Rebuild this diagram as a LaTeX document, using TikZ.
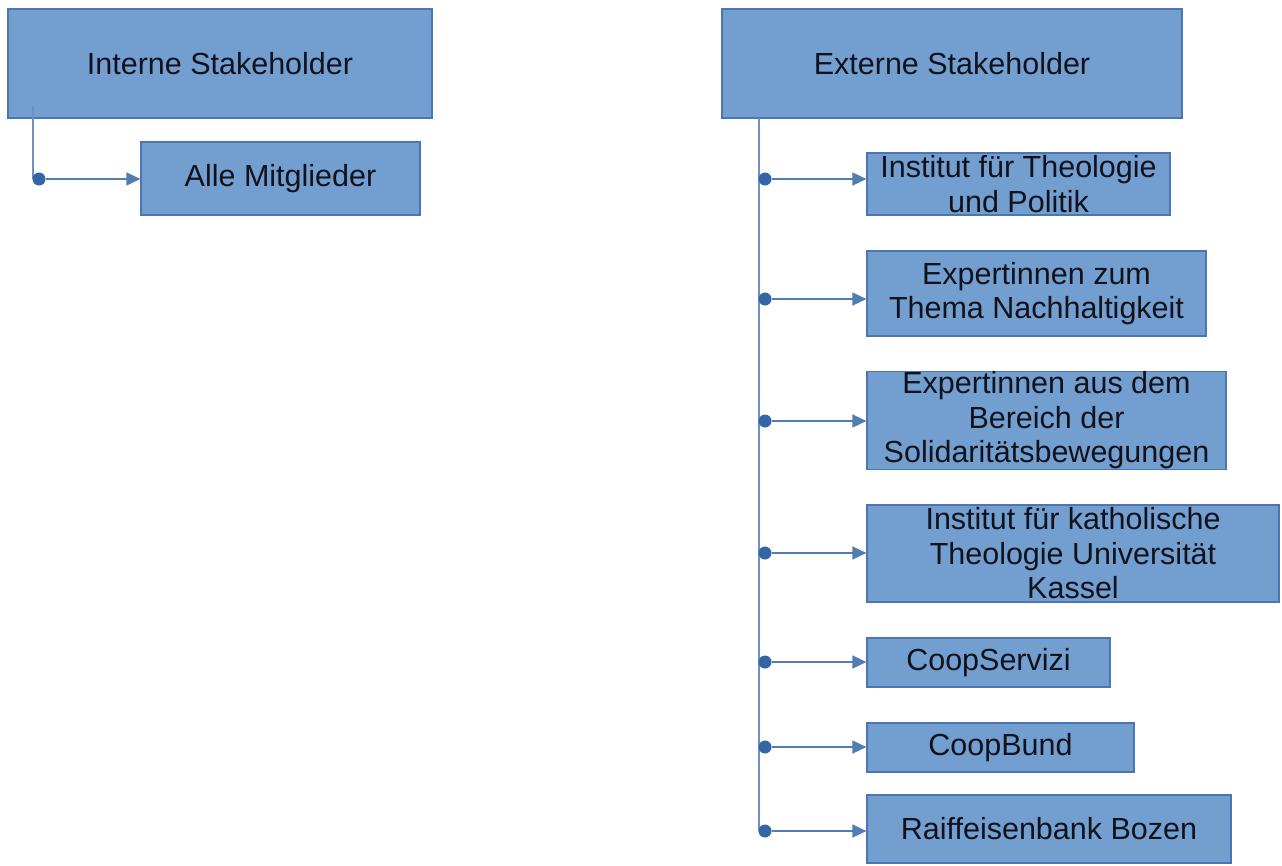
\documentclass[tikz,border=0pt]{standalone}
\usepackage{fontspec}
\setmainfont{Liberation Sans}
\usetikzlibrary{arrows.meta, calc}
\definecolor{boxFill}{RGB}{114, 159, 207}
\definecolor{boxDraw}{RGB}{76,  118, 176}
\definecolor{lineA}  {RGB}{110, 145, 195}
\definecolor{darkA}  {RGB}{52,  101, 164}
\definecolor{textA}  {RGB}{18,  18,  28}

\begin{document}
\begin{tikzpicture}[x=1pt, y=-1pt,
  box/.style={draw=boxDraw, fill=boxFill, line width=1.2pt, inner sep=0pt,
    align=center, text=textA, font=\fontsize{30.5}{34.5}\selectfont},
  trunk/.style={draw=lineA, line width=2pt},
  conn/.style={draw=darkA!85, line width=1.5pt, -{Triangle[length=14pt, width=13pt]}},
  dotA/.style={circle, fill=darkA, inner sep=0pt, minimum size=13pt}]
  \useasboundingbox (0,0) rectangle (1282,865);

  \node[box, minimum width=424pt, minimum height=109pt] (int)  at (220, 63.5)   {Interne Stakeholder};
  \node[box, minimum width=279pt, minimum height=73pt]  (alle) at (280.5, 178.5) {Alle Mitglieder};
  \node[box, minimum width=460pt, minimum height=109pt] (ext)  at (952, 63.5)   {Externe Stakeholder};

  \node[box, minimum width=303pt, minimum height=62pt] (b1) at (1018.5, 184)  {Institut für Theologie\\und Politik};
  \node[box, minimum width=339pt, minimum height=85pt] (b2) at (1036.5, 293.5) {Expertinnen zum\\Thema Nachhaltigkeit};
  \node[box, minimum width=359pt, minimum height=97pt] (b3) at (1046.5, 420.5) {Expertinnen aus dem\\Bereich der\\Solidaritätsbewegungen};
  \node[box, minimum width=412pt, minimum height=97pt] (b4) at (1073, 553.5)   {Institut für katholische\\Theologie Universität\\Kassel};
  \node[box, minimum width=243pt, minimum height=49pt] (b5) at (988.5, 662.5)  {CoopServizi};
  \node[box, minimum width=267pt, minimum height=49pt] (b6) at (1000.5, 747.5) {CoopBund};
  \node[box, minimum width=364pt, minimum height=68pt] (b7) at (1049, 829)     {Raiffeisenbank Bozen};

  \coordinate (lt) at (33, 106);
  \coordinate (lb) at (33, 179);
  \coordinate (rt) at (759, 118);
  \coordinate (rb) at (759, 831);

  \draw[trunk] (lt) -- (lb);
  \draw[trunk] (rt) -- (rb);

  \node[dotA] (d0) at (39, 179) {};
  \node[dotA] (d1) at (765, 179) {};
  \node[dotA] (d2) at (765, 299) {};
  \node[dotA] (d3) at (765, 421) {};
  \node[dotA] (d4) at (765, 553) {};
  \node[dotA] (d5) at (765, 662) {};
  \node[dotA] (d6) at (765, 747) {};
  \node[dotA] (d7) at (765, 831) {};

  \draw[conn] (d0) -- (d0 -| alle.west);
  \draw[conn] (d1) -- (d1 -| b1.west);
  \draw[conn] (d2) -- (d2 -| b2.west);
  \draw[conn] (d3) -- (d3 -| b3.west);
  \draw[conn] (d4) -- (d4 -| b4.west);
  \draw[conn] (d5) -- (d5 -| b5.west);
  \draw[conn] (d6) -- (d6 -| b6.west);
  \draw[conn] (d7) -- (d7 -| b7.west);
\end{tikzpicture}
\end{document}
